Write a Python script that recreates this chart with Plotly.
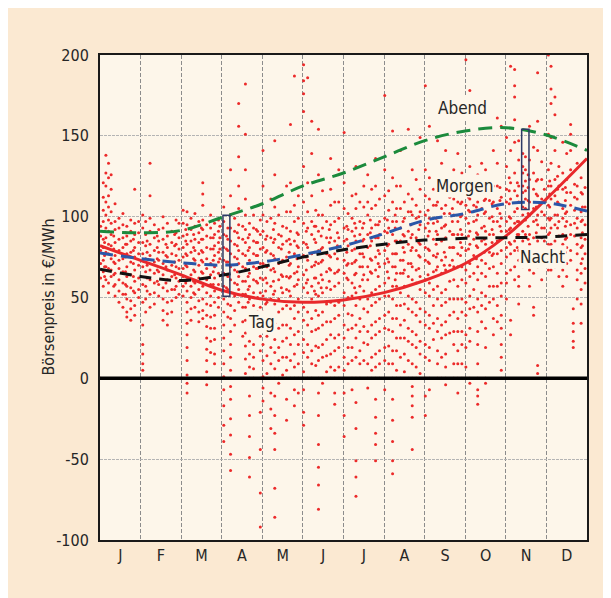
import plotly.graph_objects as go

# ---------------- data ----------------
month_labels = ["J", "F", "M", "A", "M", "J", "J", "A", "S", "O", "N", "D"]
month_days = [31, 28, 31, 30, 31, 30, 31, 31, 30, 31, 30, 31]
y_ticks = [-100, -50, 0, 50, 100, 150, 200]
y_tick_text = ["-100", "-50", "0", "50", "100", "150", "200"]

# smoothed daily-profile curves, values at month boundaries (x = 0..12)
curve_x = list(range(13))
tag = [82, 73, 64, 54.5, 49, 47, 48.5, 53, 60.5, 71, 88, 111, 136]
abend = [91, 90, 91.5, 99.5, 108, 119, 127, 137, 147, 153, 155, 150.5, 141]
morgen = [77.5, 74, 71.5, 70, 72, 76.5, 82, 89.5, 97.7, 102, 108, 108.5, 103.5]
nacht = [67.5, 63, 60.5, 63.7, 69, 75, 79.5, 83, 85.5, 86.6, 87, 87.4, 89]

# hourly exchange prices (EUR/MWh), grouped by day of month
jan = {1: [0, 62, 71, 79, 88, 94], 3: [57, 66, 73, 81, 86, 97, 104, 112, 121], 4: [84, 76, 69, 91, 63],
       5: [138, 127, 119, 109, 101, 93, 87, 78, 69, 61], 7: [133, 124, 113, 106, 98, 91, 83, 77, 68, 59, 53],
       9: [126, 117, 103, 96, 89, 82, 74, 67, 63], 11: [88, 80, 72, 64, 57], 12: [108, 97, 92, 84, 76, 71, 65, 58, 51],
       15: [99, 93, 86, 79, 73, 68, 61, 54, 47], 18: [102, 95, 87, 81, 74, 66, 59, 52, 44],
       20: [90, 83, 75, 66, 58, 52],
       21: [94, 88, 83, 77, 69, 63, 57, 49, 41, 38], 24: [98, 91, 85, 78, 72, 64, 56, 48, 43, 36],
       26: [86, 79, 71, 63, 54],
       27: [117, 96, 89, 81, 75, 67, 60, 53, 45, 39], 30: [97, 90, 84, 77, 70, 62, 55, 50]}
feb = {2: [101, 93, 84, 77, 69, 58, 47, 33, 21, 15, 9, 5], 4: [97, 89, 82, 74, 66, 57, 49, 41],
       5: [85, 78, 70, 62, 54],
       7: [133, 113, 99, 91, 83, 76, 67, 61, 52, 44], 10: [95, 87, 79, 72, 65, 59, 53, 46],
       12: [88, 81, 74, 67, 60],
       13: [92, 85, 78, 73, 66, 58, 51], 16: [100, 93, 86, 78, 71, 64, 56, 49, 42, 36], 18: [83, 76, 69, 59],
       19: [96, 88, 81, 75, 67, 61, 54, 47, 40, 33], 22: [91, 84, 77, 70, 63, 55, 48, 41],
       24: [89, 82, 72, 64, 55],
       25: [98, 90, 83, 76, 69, 62, 57, 50], 27: [96, 87, 80, 73, 68, 60, 52]}
mar = {2: [104, 96, 88, 81, 75, 68, 63, 57, 51], 4: [92, 85, 77, 70, 59],
       5: [103, 95, 89, 83, 76, 69, 61, 54, 47, 41, 34, 27, 19, 11, 2, -3, -9],
       8: [99, 92, 85, 78, 71, 64, 57, 50, 43, 36], 10: [89, 81, 74, 67, 60, 53],
       11: [102, 94, 86, 79, 73, 66, 59, 52, 44],
       14: [97, 90, 84, 77, 70, 62, 55, 48, 41, 35], 16: [93, 86, 79, 73, 66],
       17: [121, 114, 107, 98, 92, 86, 78, 72, 65, 57, 49, 42, 37],
       20: [95, 88, 81, 74, 68, 61, 53, 46, 39, 32, 25, 18, 11, 4, 0, -4],
       23: [101, 93, 87, 80, 71, 64, 58, 51, 45, 38, 31, 23, 16], 25: [87, 80, 73, 66, 58],
       26: [96, 89, 82, 76, 69, 62, 54, 47, 39, 31, 24, 15, 9], 29: [98, 91, 84, 78, 72, 65, 58, 50, 44],
       30: [94, 87, 80, 74]}
apr = {2: [106, 97, 89, 81, 73, 65, 57, 49, 41, 33, 25, 17, 9, 1, -7, -17, -29, -39],
       4: [88, 80, 72, 64, 56], 5: [93, 86, 79, 72, 63, 55, 46, 38],
       7: [129, 113, 101, 93, 85, 77, 69, 61, 53, 45, 37, 29, 21, 13, 5, 0, -5, -13, -25, -35, -47, -57],
       10: [99, 91, 83, 75, 67, 59, 51, 42, 33], 12: [90, 82, 74, 66, 58],
       13: [170, 156, 137, 119, 105, 95, 87, 79, 71, 63, 55, 47],
       16: [94, 86, 77, 69, 60, 52, 44, 35, 26],
       18: [182, 151, 129, 111, 101, 92, 84, 76, 68, 60, 52, 44, 36, 28, 20, 12, 3],
       20: [87, 79, 71, 63, 55, 47],
       21: [96, 89, 81, 73, 65, 57, 49, 39, 31, 23, 15, 7, 0, -11, -23, -36, -49, -61],
       24: [101, 93, 85, 77, 69, 61, 53, 45, 37, 29, 21, 13, 6, 0], 26: [92, 84, 76, 68, 60],
       27: [91, 84, 76, 68, 59, 50, 41, 32],
       29: [98, 89, 80, 71, 62, 53, 44, 35, 26, 17, 0, -21, -44, -71, -92]}
may = {1: [141, 119, 101, 91, 81, 71, 61, 51, 41, 31, 21, 11, 1, -6, -14], 3: [86, 78, 70, 62, 54, 46],
       4: [97, 88, 79, 69, 59, 47, 37, 26, 14, 3],
       7: [111, 99, 87, 77, 67, 57, 49, 39, 29, 19, 9, 0, -9, -19, -31], 9: [92, 84, 76, 68, 60, 52],
       10: [147, 126, 106, 96, 86, 74, 66, 54, 46, 34, 24, 16, 6, 0, -11, -23, -34, -44, -68, -86],
       13: [101, 89, 81, 71, 61, 49, 41, 31, 19, 11, 0, -3], 15: [88, 80, 72, 64, 56],
       16: [94, 83, 73, 63, 53, 43, 33, 23, 13, 2],
       19: [119, 103, 93, 85, 75, 63, 55, 45, 33, 25, 13, 5, 0, -13, -26], 21: [86, 78, 70, 62, 54],
       22: [157, 121, 103, 91, 83, 71, 63, 51, 43, 31, 21, 11, 0],
       25: [187, 107, 97, 85, 77, 65, 57, 45, 37, 27, 15, 7, 0, -7, -17], 27: [90, 82, 74, 66, 58],
       28: [113, 99, 89, 81, 69, 61, 49, 41, 29, 21, 9, 0, -9]}
jun = {1: [194, 184, 176, 165, 131, 109, 96, 84, 76, 64, 56, 44, 36, 24, 16, 4, 0, -7, -21, -29],
       3: [91, 83, 75, 67, 59],
       4: [186, 121, 103, 93, 81, 73, 61, 53, 41, 33, 21, 13, 0],
       7: [159, 139, 113, 97, 89, 77, 69, 57, 49, 37, 29, 17, 9, 0], 9: [94, 86, 78, 70, 62, 54],
       10: [104, 94, 84, 72, 62, 52, 42, 30, 20, 8],
       12: [154, 126, 101, 91, 79, 71, 59, 51, 39, 31, 19, 11, 0, -9, -23, -41, -55, -66, -81],
       14: [88, 80, 72, 64, 56],
       15: [116, 101, 93, 81, 73, 61, 53, 41, 33, 21, 13, 0, -3], 18: [97, 87, 77, 66, 56, 46, 35, 24, 14, 4],
       20: [92, 84, 76, 68, 60],
       21: [136, 117, 107, 95, 87, 75, 67, 55, 47, 35, 27, 15, 7, 0],
       24: [109, 97, 85, 77, 65, 57, 45, 37, 25, 17, 5, 0, -9, -16], 26: [90, 82, 74, 66],
       27: [129, 109, 99, 87, 79, 67, 59, 47, 39, 27, 19, 7, 0]}
jul = {1: [152, 121, 105, 93, 85, 73, 65, 53, 45, 33, 25, 13, 5, 0, -9, -23, -36], 3: [94, 86, 78, 70, 62],
       4: [102, 92, 82, 71, 61, 50, 40, 30, 19, 9], 7: [113, 99, 91, 79, 71, 59, 51, 39, 31, 19, 11, 0, -7],
       9: [96, 88, 80, 72, 64, 56],
       10: [131, 114, 105, 93, 85, 73, 65, 53, 45, 33, 25, 13, 0, -15, -31, -51, -61, -73],
       13: [109, 97, 89, 77, 69, 57, 49, 37, 29, 17, 9, 0], 15: [93, 85, 77, 69, 61],
       16: [119, 106, 96, 86, 75, 64, 54, 43, 32, 22, 11],
       19: [126, 109, 101, 89, 81, 69, 61, 49, 41, 29, 21, 9, 0, -6], 21: [98, 90, 82, 74, 66],
       22: [117, 105, 93, 85, 73, 65, 53, 45, 33, 25, 13, 5, 0],
       25: [136, 119, 107, 95, 87, 75, 67, 55, 47, 35, 27, 15, 7, 0, -13, -24, -34, -41, -51],
       27: [95, 87, 79, 71, 63],
       28: [111, 97, 89, 77, 69, 57, 49, 37, 29, 17, 9, 0]}
aug = {1: [175, 129, 113, 99, 91, 79, 71, 59, 51, 39, 31, 19, 11, 0, -7], 3: [98, 90, 82, 74, 66],
       4: [116, 104, 93, 83, 72, 62, 51, 41, 30, 20, 9],
       7: [153, 124, 109, 97, 89, 77, 69, 57, 49, 37, 29, 17, 9, 0, -13, -26, -39, -51, -59],
       9: [101, 93, 85, 77, 69, 61],
       10: [119, 105, 97, 85, 77, 65, 57, 45, 37, 25, 17, 5, 0],
       13: [141, 119, 105, 93, 85, 73, 65, 53, 45, 33, 25, 13, 0], 15: [97, 89, 81, 73, 65],
       16: [109, 99, 88, 78, 67, 57, 46, 36, 25, 15, 4],
       19: [154, 114, 103, 91, 83, 71, 63, 51, 43, 31, 23, 11, 0], 21: [103, 95, 87, 79, 71],
       22: [129, 111, 101, 89, 81, 69, 61, 49, 41, 29, 21, 9, 0, -5, -11, -17, -24, -44],
       25: [123, 107, 99, 87, 79, 67, 59, 47, 39, 27, 19, 7, 0], 27: [100, 92, 84, 76, 68],
       28: [149, 117, 103, 95, 83, 75, 63, 55, 43, 35, 23, 15, 3]}
sep = {1: [181, 129, 113, 101, 93, 81, 73, 61, 53, 41, 33, 21, 13, 0, -11, -23], 3: [104, 96, 88, 80, 72, 64],
       4: [156, 124, 111, 99, 91, 79, 71, 59, 51, 39, 31, 19, 11, 0, -7],
       7: [117, 107, 96, 86, 76, 66, 55, 45, 34, 24], 9: [107, 99, 91, 83, 75, 67],
       10: [147, 119, 109, 97, 89, 77, 69, 57, 49, 37, 29, 17, 9, 0],
       13: [133, 114, 105, 93, 85, 73, 65, 53, 45, 33, 25, 13, 0], 15: [102, 94, 86, 78, 70],
       16: [141, 117, 107, 95, 87, 75, 67, 55, 47, 35, 27, 15, 7, 0, -4],
       19: [124, 112, 102, 91, 81, 70, 60, 49, 39, 28], 21: [105, 97, 89, 81, 73],
       22: [129, 111, 101, 89, 81, 69, 61, 49, 41, 29, 21, 9, 0],
       25: [139, 121, 109, 97, 89, 77, 69, 57, 49, 37, 29, 17, 9, 0, -9], 27: [108, 100, 92, 84, 76],
       28: [127, 109, 101, 89, 81, 69, 61, 49, 41, 29, 21, 9, 0]}
oct_ = {1: [197, 121, 107, 99, 87, 79, 67, 59, 47, 39, 27, 19, 7, 0], 3: [112, 104, 96, 88, 80, 72],
        4: [178, 171, 131, 111, 103, 91, 83, 71, 63, 51, 43, 31, 23, 0, -3],
        7: [118, 107, 97, 86, 76, 65, 55, 44], 9: [114, 106, 98, 90, 82, 74],
        10: [126, 109, 101, 89, 81, 69, 61, 49, 41, 29, 21, 9, 0, -7, -11, -16],
        13: [133, 115, 105, 93, 85, 73, 65, 53, 45, 35], 15: [110, 102, 94, 86, 78],
        16: [129, 111, 103, 91, 83, 71, 63, 51, 43, 31, 19, 0, -3],
        19: [121, 110, 99, 89, 78, 68, 57, 47], 21: [116, 108, 100, 92, 84, 76],
        22: [141, 119, 109, 97, 89, 77, 69, 57, 49, 37, 27],
        25: [161, 133, 119, 105, 97, 85, 77, 65, 57, 45, 35], 27: [118, 110, 102, 94, 86],
        28: [156, 112, 99, 91, 79, 71, 59, 51, 39, 31, 21, 13, 5, 0]}
nov = {1: [149, 131, 117, 109, 97, 91, 81, 75, 65, 59, 49], 3: [124, 116, 108, 100, 92, 84],
       4: [193, 141, 121, 111, 99, 93, 83, 77, 67, 36, 27],
       7: [191, 181, 174, 160, 146, 127, 116, 103, 96, 85, 79, 69, 61], 9: [121, 113, 105, 97, 89, 81],
       10: [147, 135, 119, 109, 97, 89, 79, 73, 63, 57, 46],
       13: [139, 131, 127, 119, 115, 106, 101, 91, 85, 75, 69], 15: [137, 129, 122, 116, 111, 105, 98, 89, 81],
       17: [126, 118, 110, 102, 94, 86],
       18: [156, 135, 123, 109, 101, 89, 83, 73, 67, 57], 21: [143, 127, 117, 105, 97, 87, 81, 71, 65, 44, 39],
       23: [122, 114, 106, 98, 90],
       24: [189, 159, 141, 123, 113, 101, 95, 85, 79, 69, 8, 3], 27: [134, 123, 111, 103, 93, 87, 77, 71, 61],
       29: [117, 109, 101, 93, 85]}
dec = {2: [200, 151, 129, 119, 107, 99, 89, 83, 73, 67], 3: [122, 114, 106, 98, 90, 82],
       4: [193, 179, 170, 149, 133, 119, 111, 99, 93, 83, 77, 67],
       7: [174, 163, 141, 123, 113, 101, 95, 85, 79, 69], 9: [125, 117, 109, 101, 93],
       10: [131, 119, 108, 97, 88, 79, 71, 63],
       13: [146, 127, 117, 105, 99, 89, 83, 73, 67, 57], 15: [118, 110, 102, 94, 86, 78],
       16: [139, 123, 115, 103, 97, 87, 81, 71, 63],
       19: [157, 151, 141, 129, 115, 107, 95, 89, 79, 73], 21: [43, 34, 29, 23, 19],
       22: [120, 112, 104, 96, 88],
       24: [133, 119, 111, 99, 93, 83, 77, 67, 61, 49], 27: [124, 115, 103, 97, 87, 81, 71, 65, 55, 46, 34],
       28: [114, 106, 98, 90, 82, 74], 30: [118, 106, 95, 86, 77, 68, 59]}
monthly_prices = [jan, feb, mar, apr, may, jun, jul, aug, sep, oct_, nov, dec]

# spread markers (Abend minus Tag) : [x0, x1] in months, [y0, y1] in EUR/MWh
spread_boxes_x = [[3.03, 3.2], [10.39, 10.57]]
spread_boxes_y = [[50.7, 100.8], [104.5, 154]]

# labels
label_text = ["Abend", "Morgen", "Nacht", "Tag"]
label_x = [8.94, 8.97, 10.91, 3.99]
label_y = [167, 119, 75, 35]
y_title = "Börsenpreis in €/MWh"

# ---------------- figure ----------------
FONT = "DejaVu Sans Condensed, Liberation Sans Narrow, Arial Narrow, sans-serif"
TXT = "#262626"
PLOT_BG = "#fdf6ea"

px, py = [], []
for m, days in enumerate(monthly_prices):
    for d, vals in days.items():
        for v in vals:
            px.append(m + (d - 0.5) / month_days[m])
            py.append(v)

fig = go.Figure()
fig.add_trace(go.Scatter(x=px, y=py, mode="markers",
                         marker=dict(color="#ec2a2a", size=3, line=dict(width=0)),
                         hoverinfo="skip", showlegend=False))
fig.add_trace(go.Scatter(x=curve_x, y=tag, mode="lines", line=dict(color="#e8282b", width=3, shape="spline"),
                         showlegend=False))
fig.add_trace(go.Scatter(x=curve_x, y=nacht, mode="lines",
                         line=dict(color="#111111", width=3, shape="spline", dash="12px,8px"), showlegend=False))
fig.add_trace(go.Scatter(x=curve_x, y=morgen, mode="lines",
                         line=dict(color="#2a57a8", width=3, shape="spline", dash="13px,8px"), showlegend=False))
fig.add_trace(go.Scatter(x=curve_x, y=abend, mode="lines",
                         line=dict(color="#1b8a3c", width=3, shape="spline", dash="14px,8px"), showlegend=False))

shapes = [
    dict(type="line", xref="paper", yref="y", x0=0, x1=1, y0=0, y1=0,
         line=dict(color="#000000", width=3.5), layer="above"),
]
for bx, by in zip(spread_boxes_x, spread_boxes_y):
    shapes.append(dict(type="rect", xref="x", yref="y", x0=bx[0], x1=bx[1], y0=by[0], y1=by[1],
                       line=dict(color="#2e3a66", width=1.5), fillcolor="rgba(0,0,0,0)", layer="above"))

annotations = [dict(x=x, y=y, text=t, showarrow=False, xref="x", yref="y",
                    bgcolor=PLOT_BG, borderpad=1,
                    font=dict(family=FONT, size=17, color=TXT))
               for t, x, y in zip(label_text, label_x, label_y)]
annotations.append(dict(x=-52 / 487, y=0.5, xref="paper", yref="paper", text=y_title, textangle=-90,
                        showarrow=False, xanchor="center", yanchor="middle",
                        font=dict(family=FONT, size=16, color=TXT)))

fig.update_layout(
    width=611, height=598,
    margin=dict(l=92, r=32, t=47, b=66),
    paper_bgcolor="#fbe9d2",
    plot_bgcolor=PLOT_BG,
    shapes=shapes,
    annotations=annotations,
    showlegend=False,
    font=dict(family=FONT, color=TXT, size=16),
)
fig.update_xaxes(
    range=[0, 12], tickvals=[i + 0.5 for i in range(12)], ticktext=month_labels,
    showgrid=False, ticks="", zeroline=False,
    showline=True, mirror=True, linecolor="#1a1a1a", linewidth=2,
    tickfont=dict(family=FONT, size=16, color=TXT),
    minor=dict(tickvals=list(range(1, 12)), showgrid=True, gridcolor="#8c8c8c",
               griddash="4px,2px", gridwidth=1, ticks=""),
)
fig.update_yaxes(
    range=[-100, 200], tickvals=y_ticks, ticktext=y_tick_text, ticks="", zeroline=False,
    showgrid=True, gridcolor="#b4b4b4", gridwidth=1, griddash="3px,1px",
    showline=True, mirror=True, linecolor="#1a1a1a", linewidth=2,
    tickfont=dict(family=FONT, size=16, color=TXT), ticklabelstandoff=6,
)

fig.write_html("out.html")
